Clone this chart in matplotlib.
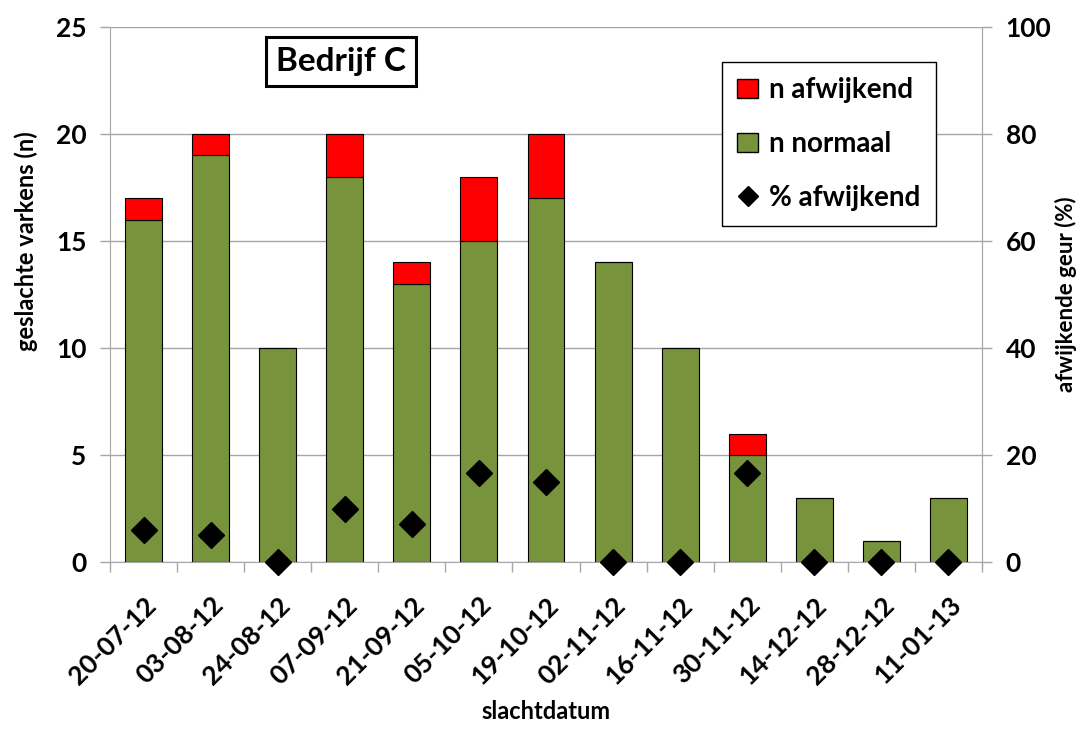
import numpy as np
import matplotlib
matplotlib.use('Agg')
import matplotlib.pyplot as plt
from matplotlib.lines import Line2D
from matplotlib.patches import Patch

plt.rcParams['font.family'] = ['Lato', 'DejaVu Sans']
plt.rcParams['font.weight'] = 'bold'

dates = ['20-07-12', '03-08-12', '24-08-12', '07-09-12', '21-09-12', '05-10-12', '19-10-12',
         '02-11-12', '16-11-12', '30-11-12', '14-12-12', '28-12-12', '11-01-13']
n_normaal = [16, 19, 10, 18, 13, 15, 17, 14, 10, 5, 3, 1, 3]
n_afwijkend = [1, 1, 0, 2, 1, 3, 3, 0, 0, 1, 0, 0, 0]
pct_afwijkend = [5.9, 5.0, 0, 10.0, 7.1, 16.7, 15.0, 0, 0, 16.7, 0, 0, 0]

green = '#77933C'
red = '#FF0000'
grid_c = '#A6A6A6'

fig = plt.figure(figsize=(10.88, 7.33), dpi=100)
ax = fig.add_axes([110/1088, 1-562/733, (982-110)/1088, (562-27)/733])
x = np.arange(len(dates))

ax.bar(x, n_normaal, width=0.55, color=green, edgecolor='black', linewidth=0.8, zorder=3)
ax.bar(x, n_afwijkend, width=0.55, bottom=n_normaal, color=red, edgecolor='black', linewidth=0.8, zorder=3)

ax.set_xlim(-0.5, len(dates)-0.5)
ax.set_ylim(0, 25)
ax.set_yticks([0, 5, 10, 15, 20, 25])
ax.yaxis.grid(True, color=grid_c, linewidth=1, zorder=0)
ax.set_xticks(x)
ax.set_xticklabels(dates, rotation=45, ha='right', rotation_mode='anchor', fontsize=19, fontweight='bold')
ax.tick_params(axis='x', length=0, pad=22)
ax.set_xticks(np.arange(len(dates)+1)-0.5, minor=True)
ax.tick_params(axis='x', which='minor', length=7, color=grid_c, width=1)
ax.tick_params(axis='y', labelsize=19, length=7, color=grid_c, width=1, pad=10)
for lab in ax.get_yticklabels():
    lab.set_fontweight('bold')
for s in ['top']:
    ax.spines[s].set_visible(False)
for s in ['left', 'bottom', 'right']:
    ax.spines[s].set_color(grid_c)
ax.set_ylabel('geslachte varkens (n)', fontsize=17, fontweight='bold')
ax.yaxis.set_label_coords(-0.082, 0.60)
ax.set_xlabel('slachtdatum', fontsize=17, fontweight='bold', labelpad=8)

ax2 = ax.twinx()
ax2.plot(x, pct_afwijkend, linestyle='none', marker='D', markersize=13, color='black', zorder=5, clip_on=False)
ax2.set_ylim(0, 100)
ax2.set_yticks([0, 20, 40, 60, 80, 100])
ax2.tick_params(axis='y', labelsize=19, length=7, color=grid_c, width=1, pad=10)
for lab in ax2.get_yticklabels():
    lab.set_fontweight('bold')
for s in ['top', 'left', 'bottom']:
    ax2.spines[s].set_visible(False)
ax2.spines['right'].set_color(grid_c)
ax2.set_ylabel('afwijkende geur (%)', fontsize=16, fontweight='bold')
ax2.yaxis.set_label_coords(1.084, 0.5)

handles = [Patch(facecolor=red, edgecolor='black', label='n afwijkend'),
           Patch(facecolor=green, edgecolor='black', label='n normaal'),
           Line2D([], [], linestyle='none', marker='D', color='black', markersize=10, label='% afwijkend')]
leg = ax2.legend(handles=handles, loc='upper left', bbox_to_anchor=((722-110)/872, 1-(62-27)/535),
                 borderaxespad=0, fontsize=20, frameon=True, fancybox=False, edgecolor='black',
                 framealpha=1, labelspacing=1.0, handlelength=0.75, handletextpad=0.4, borderpad=0.55)
leg.get_frame().set_linewidth(1.0)
for t in leg.get_texts():
    t.set_fontweight('bold')

ax.text(0.265, 0.935, 'Bedrijf C', transform=ax.transAxes, fontsize=24, fontweight='bold',
        ha='center', va='center', zorder=10,
        bbox=dict(boxstyle='square,pad=0.3', facecolor='white', edgecolor='black', linewidth=2.2))

fig.savefig('out.png', dpi=100)
